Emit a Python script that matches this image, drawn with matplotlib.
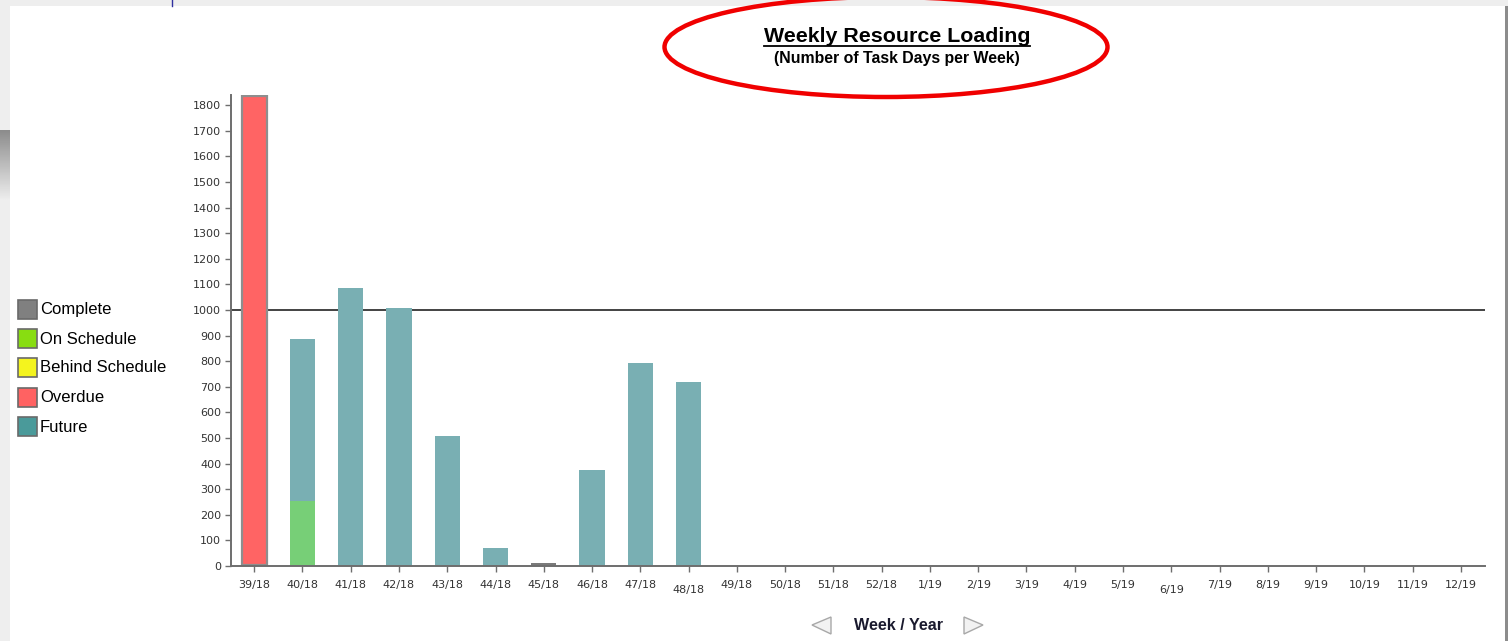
import numpy as np
import matplotlib
matplotlib.use("Agg")
import matplotlib.pyplot as plt
from matplotlib.patches import Rectangle, Ellipse, Polygon

# ---- data -------------------------------------------------------------
weeks = ['39/18', '40/18', '41/18', '42/18', '43/18', '44/18', '45/18',
         '46/18', '47/18', '48/18', '49/18', '50/18', '51/18', '52/18',
         '1/19', '2/19', '3/19', '4/19', '5/19', '6/19', '7/19', '8/19',
         '9/19', '10/19', '11/19', '12/19']
complete = [4, 4, 0, 0, 0, 4, 12, 0, 0, 0, 0, 0, 0, 0,
            0, 0, 0, 0, 0, 0, 0, 0, 0, 0, 0, 0]
on_schedule = [0, 250, 0, 0, 0, 0, 0, 0, 0, 0, 0, 0, 0, 0,
               0, 0, 0, 0, 0, 0, 0, 0, 0, 0, 0, 0]
behind_schedule = [0] * 26
overdue = [1834, 0, 0, 0, 0, 0, 0, 0, 0, 0, 0, 0, 0, 0,
           0, 0, 0, 0, 0, 0, 0, 0, 0, 0, 0, 0]
future = [0, 632, 1086, 1008, 507, 67, 0, 375, 792, 718, 0, 0, 0, 0,
          0, 0, 0, 0, 0, 0, 0, 0, 0, 0, 0, 0]
capacity = 1000
y_ticks = list(range(0, 1900, 100))

legend_labels = ['Complete', 'On Schedule', 'Behind Schedule', 'Overdue', 'Future']
legend_colors = ['#808080', '#88DD11', '#F4F41E', '#FF6262', '#4A9A9A']

# ---- figure -----------------------------------------------------------
W, H = 1508, 641
fig = plt.figure(figsize=(W / 100, H / 100), dpi=100, facecolor='#EEEEEE')


def fx(px):
    return px / W


def fy(py):
    return 1 - py / H


# white page panel (behind everything)
fig.patches.append(Rectangle((fx(10), 0), fx(1495), fy(6), transform=fig.transFigure,
                             facecolor='white', edgecolor='none', zorder=-5))
# right shaded edge
fig.patches.append(Rectangle((fx(1505), 0), fx(3), fy(6), transform=fig.transFigure,
                             facecolor='#8C8C8C', edgecolor='none', zorder=-5))
# dark gradient strip at left edge
grad_ax = fig.add_axes([0, fy(200), fx(10), (200 - 130) / H])
grad = np.linspace(0.55, 0.93, 64).reshape(-1, 1)
grad_ax.imshow(grad, cmap='gray', vmin=0, vmax=1, aspect='auto')
grad_ax.axis('off')
# thin blue divider at top
fig.lines.append(plt.Line2D([fx(172), fx(172)], [fy(0), fy(6)], transform=fig.transFigure,
                            color='#3030A0', lw=1.0))

# ---- chart axes ---------------------------------------------------------
ax = fig.add_axes([fx(231), fy(566), fx(1485 - 231), (566 - 95) / H])
ax.set_zorder(1)
ax.patch.set_alpha(0)
x = np.arange(len(weeks))
bw = 0.52

series = [
    (complete, '#7A7A7A', 'none', 0),
    (on_schedule, '#77CF77', 'none', 0),
    (behind_schedule, '#F4F41E', 'none', 0),
    (overdue, '#FF6464', '#8E8E8E', 1.6),
    (future, '#79AFB3', 'none', 0),
]
bottom = np.zeros(len(weeks))
for vals, col, ec, lw in series:
    vals = np.asarray(vals, dtype=float)
    mask = vals > 0
    ax.bar(x[mask], vals[mask], bw, bottom=bottom[mask], color=col,
           edgecolor=ec, linewidth=lw, zorder=2)
    bottom += vals

# capacity reference line, drawn behind the bars
ax.axhline(capacity, color='#222222', lw=1.2, zorder=1)

ax.set_xlim(-0.48, 25.5)
ax.set_ylim(0, 1840)
ax.set_yticks(y_ticks)
ax.set_yticklabels([str(v) for v in y_ticks], fontsize=8, color='#333333')
ax.set_xticks(x)
ax.set_xticklabels(weeks, fontsize=8, color='#333333')

for s in ['top', 'right']:
    ax.spines[s].set_visible(False)
for s in ['left', 'bottom']:
    ax.spines[s].set_color('#6E6E6E')
    ax.spines[s].set_linewidth(1.4)
ax.tick_params(axis='y', length=4, width=1, color='#6E6E6E', pad=3)
ax.tick_params(axis='x', length=4, width=1, color='#6E6E6E', pad=6)
for tick, lab in zip(ax.xaxis.get_major_ticks(), weeks):
    if lab in ('48/18', '6/19'):
        tick.tick1line.set_markersize(8)
        tick.set_pad(10)

# ---- legend -------------------------------------------------------------
leg_y = [310, 339, 368, 398, 427]
for lab, col, yy in zip(legend_labels, legend_colors, leg_y):
    fig.patches.append(Rectangle((fx(18), fy(yy + 9)), fx(19), 19 / H,
                                 transform=fig.transFigure, facecolor=col,
                                 edgecolor='#6A6A6A', linewidth=1.2))
    fig.text(fx(40), fy(yy), lab, fontsize=12, family='Liberation Sans',
             va='center', ha='left', color='black')

# ---- titles -------------------------------------------------------------
title = fig.text(fx(897), fy(36), 'Weekly Resource Loading', fontsize=15.4,
                 fontweight='bold', family='Liberation Sans', ha='center',
                 va='center', color='black')
fig.text(fx(897), fy(58), '(Number of Task Days per Week)', fontsize=11.4,
         fontweight='bold', family='Liberation Sans', ha='center', va='center',
         color='black')

# underline under the main title
fig.canvas.draw()
bb = title.get_window_extent().transformed(fig.transFigure.inverted())
fig.lines.append(plt.Line2D([bb.x0, bb.x1], [fy(46), fy(46)], transform=fig.transFigure,
                            color='black', lw=1.3))

# highlight ring around the title block
fig.patches.append(Ellipse((fx(886), fy(47)), fx(443), 100 / H,
                           transform=fig.transFigure, facecolor='none',
                           edgecolor='#F00000', linewidth=3.2))

# ---- x axis caption with paging arrows --------------------------------
fig.text(fx(899), fy(625), 'Week / Year', fontsize=11.6, fontweight='bold',
         family='Liberation Sans', ha='center', va='center', color='#1A1A2E')
left_tri = [(fx(812), fy(625)), (fx(831), fy(617)), (fx(831), fy(634))]
right_tri = [(fx(983), fy(625)), (fx(964), fy(617)), (fx(964), fy(634))]
for tri in (left_tri, right_tri):
    fig.patches.append(Polygon(tri, closed=True, transform=fig.transFigure,
                               facecolor='#F2F2F2', edgecolor='#A8A8A8', linewidth=1))

fig.savefig('out.png', dpi=100, facecolor=fig.get_facecolor())
